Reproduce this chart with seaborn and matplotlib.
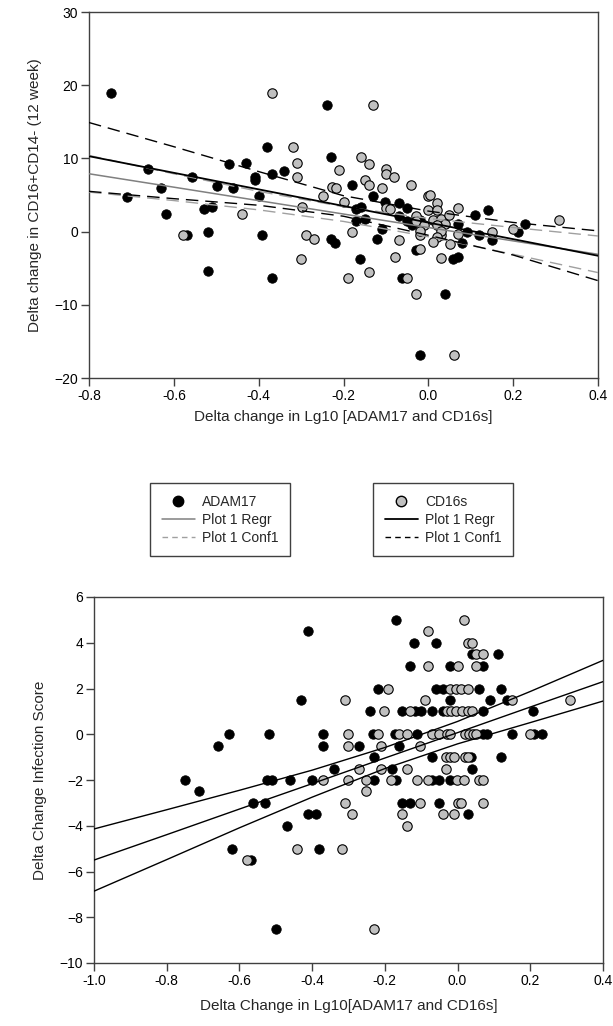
import numpy as np
import pandas as pd
import matplotlib
matplotlib.use("Agg")
import matplotlib.pyplot as plt
import seaborn as sns
from matplotlib.lines import Line2D

sns.set_theme(style="white")
plt.rcParams['font.family'] = ['Liberation Sans', 'DejaVu Sans']

# ---------------- Top panel data ----------------
top_adam17_x = [-0.749, -0.240, -0.380, -0.230, -0.660, -0.469, -0.430, -0.558, -0.409, -0.409,
                -0.369, -0.340, -0.630, -0.499, -0.460, -0.179, -0.710, -0.399, -0.130, -0.101,
                -0.069, -0.619, -0.530, -0.509, -0.170, -0.159, -0.050, 0.110, 0.140, 0.229,
                0.211, -0.170, -0.149, -0.069, -0.050, -0.039, -0.020, 0.069, 0.090, 0.119,
                0.151, 0.080, -0.110, -0.120, -0.030, -0.160, 0.059, 0.070, -0.570, -0.519,
                -0.391, -0.230, -0.220, -0.519, -0.369, -0.061, 0.040, -0.020]
top_adam17_y = [18.9, 17.3, 11.5, 10.2, 8.6, 9.2, 9.4, 7.4, 7.4, 7.0,
                7.9, 8.3, 5.9, 6.2, 5.9, 6.3, 4.7, 4.8, 4.8, 4.1,
                3.9, 2.4, 3.1, 3.3, 3.1, 3.3, 3.2, 2.3, 3.0, 1.1,
                -0.1, 1.5, 1.7, 2.1, 1.5, 0.9, 1.6, 1.0, 0.0, -0.5,
                -1.1, -1.6, 0.3, -1.0, -2.5, -3.8, -3.7, -3.5, -0.4, 0.0,
                -0.5, -1.0, -1.5, -5.4, -6.3, -6.3, -8.5, -16.8]

top_cd16s_x = [-0.369, -0.130, -0.320, -0.159, -0.310, -0.139, -0.310, -0.210, -0.100, -0.100,
               -0.080, -0.228, -0.218, -0.149, -0.139, -0.110, -0.041, -0.249, 0.000, 0.004,
               0.020, -0.200, -0.439, -0.299, -0.100, -0.090, 0.000, 0.020, 0.070, 0.309,
               0.200, -0.028, -0.029, -0.010, 0.010, 0.030, 0.040, 0.049, 0.020, 0.069,
               0.151, 0.051, 0.031, 0.031, 0.020, 0.010, -0.020, -0.020, -0.069, -0.179,
               -0.020, -0.079, -0.300, 0.030, -0.579, -0.289, -0.269, -0.139, -0.189, -0.050,
               -0.030, 0.060]
top_cd16s_y = [18.9, 17.3, 11.5, 10.2, 9.4, 9.2, 7.4, 8.4, 8.6, 7.9,
               7.4, 6.1, 6.0, 7.0, 6.3, 5.9, 6.4, 4.8, 4.8, 5.0,
               3.9, 4.1, 2.4, 3.3, 3.2, 3.1, 3.0, 3.0, 3.2, 1.6,
               0.3, 2.1, 1.5, 0.9, 1.6, 1.7, 1.1, 2.3, 0.9, -0.3,
               0.0, -1.7, -0.5, 0.1, -0.8, -1.4, -0.5, 0.1, -1.1, 0.0,
               -2.4, -3.5, -3.8, -3.6, -0.4, -0.5, -1.0, -5.5, -6.3, -6.3,
               -8.5, -16.8]

# regression / confidence lines
top_line_x = [-0.8, -0.6, -0.4, -0.2, 0.0, 0.2, 0.4]
top_adam17_regr = [7.9, 6.07, 4.23, 2.40, 0.56, -1.27, -3.1]
top_adam17_conf_hi = [10.4, 7.9, 5.5, 3.4, 1.8, 0.56, -0.6]
top_adam17_conf_lo = [5.4, 4.24, 2.97, 1.39, -0.7, -3.1, -5.6]
top_cd16s_regr = [10.3, 8.03, 5.77, 3.5, 1.23, -1.03, -3.3]
top_cd16s_conf_hi = [14.9, 11.6, 8.2, 4.9, 2.8, 1.25, 0.1]
top_cd16s_conf_lo = [5.5, 4.5, 3.6, 2.1, -0.5, -3.2, -6.7]

# ---------------- Bottom panel data ----------------
bot_adam17_x = [-0.170, -0.411, -0.120, -0.060, 0.039, 0.110, -0.131, -0.021, 0.071,
                -0.220, -0.060, -0.040, 0.060, 0.120,
                -0.431, -0.021, 0.089, 0.137,
                -0.241, -0.152, -0.118, -0.100, -0.071, -0.040, 0.071, 0.208,
                -0.629, -0.520, -0.369, -0.232, -0.172, -0.111, 0.071, 0.082, 0.149, 0.211, 0.231,
                -0.660, -0.369, -0.270, -0.161,
                -0.231, -0.071, 0.036, 0.119,
                -0.340, -0.181, 0.040,
                -0.750, -0.523, -0.511, -0.461, -0.400, -0.231, -0.170, -0.071, -0.051, -0.021,
                -0.710,
                -0.562, -0.530, -0.152, -0.130, -0.051,
                -0.411, -0.389, 0.029,
                -0.470,
                -0.620, -0.380,
                -0.569,
                -0.499]
bot_adam17_y = [5.0, 4.5, 4.0, 4.0, 3.5, 3.5, 3.0, 3.0, 3.0,
                2.0, 2.0, 2.0, 2.0, 2.0,
                1.5, 1.5, 1.5, 1.5,
                1.0, 1.0, 1.0, 1.0, 1.0, 1.0, 1.0, 1.0,
                0.0, 0.0, 0.0, 0.0, 0.0, 0.0, 0.0, 0.0, 0.0, 0.0, 0.0,
                -0.5, -0.5, -0.5, -0.5,
                -1.0, -1.0, -1.0, -1.0,
                -1.5, -1.5, -1.5,
                -2.0, -2.0, -2.0, -2.0, -2.0, -2.0, -2.0, -2.0, -2.0, -2.0,
                -2.5,
                -3.0, -3.0, -3.0, -3.0, -3.0,
                -3.5, -3.5, -3.5,
                -4.0,
                -5.0, -5.0,
                -5.5,
                -8.5]

bot_cd16s_x = [0.018, -0.081, 0.029, 0.041, 0.050, 0.071, -0.081, 0.000, 0.050,
               -0.190, -0.020, -0.005, 0.010, 0.030,
               -0.310, -0.090, 0.150, 0.309,
               -0.202, -0.131, -0.030, -0.019, -0.004, 0.011, 0.030, 0.039,
               -0.301, -0.220, -0.162, -0.140, -0.071, -0.050, -0.030, -0.021, 0.020, 0.031, 0.042,
               0.052, 0.199,
               -0.301, -0.211, -0.102,
               -0.032, -0.021, -0.010, 0.020, 0.030,
               -0.270, -0.211, -0.140, -0.031,
               -0.369, -0.301, -0.252, -0.182, -0.111, -0.082, -0.001, 0.019, 0.058, 0.071,
               -0.252,
               -0.310, -0.102, 0.000, 0.010, 0.071,
               -0.290, -0.152, -0.041, -0.010,
               -0.140,
               -0.441, -0.319,
               -0.580,
               -0.230]
bot_cd16s_y = [5.0, 4.5, 4.0, 4.0, 3.5, 3.5, 3.0, 3.0, 3.0,
               2.0, 2.0, 2.0, 2.0, 2.0,
               1.5, 1.5, 1.5, 1.5,
               1.0, 1.0, 1.0, 1.0, 1.0, 1.0, 1.0, 1.0,
               0.0, 0.0, 0.0, 0.0, 0.0, 0.0, 0.0, 0.0, 0.0, 0.0, 0.0,
               0.0, 0.0,
               -0.5, -0.5, -0.5,
               -1.0, -1.0, -1.0, -1.0, -1.0,
               -1.5, -1.5, -1.5, -1.5,
               -2.0, -2.0, -2.0, -2.0, -2.0, -2.0, -2.0, -2.0, -2.0, -2.0,
               -2.5,
               -3.0, -3.0, -3.0, -3.0, -3.0,
               -3.5, -3.5, -3.5, -3.5,
               -4.0,
               -5.0, -5.0,
               -5.5,
               -8.5]

# regression / confidence lines
bot_line_x = [-1.0, -0.8, -0.6, -0.4, -0.2, 0.0, 0.2, 0.4]
bot_regr = [-5.5, -4.39, -3.27, -2.16, -1.04, 0.07, 1.19, 2.3]
bot_conf_hi = [-4.14, -3.30, -2.45, -1.57, -0.58, 0.56, 1.87, 3.23]
bot_conf_lo = [-6.86, -5.48, -4.09, -2.75, -1.50, -0.42, 0.51, 1.45]

top_xticks = [-0.8, -0.6, -0.4, -0.2, 0.0, 0.2, 0.4]
top_yticks = [-20, -10, 0, 10, 20, 30]
bot_xticks = [-1.0, -0.8, -0.6, -0.4, -0.2, 0.0, 0.2, 0.4]
bot_yticks = [-10, -8, -6, -4, -2, 0, 2, 4, 6]

GRAY_FILL = "#c0c0c0"
DASH = (0, (9, 5))

fig = plt.figure(figsize=(6.13, 10.26), dpi=100)
W, H = 613.0, 1026.0
ax1 = fig.add_axes([89 / W, 1 - 378 / H, (598 - 89) / W, (378 - 12) / H])
ax2 = fig.add_axes([94 / W, 1 - 963 / H, (603 - 94) / W, (963 - 597) / H])

# ---- top panel ----
df_ta = pd.DataFrame({"x": top_adam17_x, "y": top_adam17_y})
df_tc = pd.DataFrame({"x": top_cd16s_x, "y": top_cd16s_y})
sns.scatterplot(data=df_ta, x="x", y="y", ax=ax1, s=46, color="black",
                edgecolor="black", linewidth=0.6, zorder=2)
sns.scatterplot(data=df_tc, x="x", y="y", ax=ax1, s=46, color=GRAY_FILL,
                edgecolor="black", linewidth=0.8, zorder=3)

lines_top = pd.DataFrame({"x": top_line_x,
                          "a_fit": top_adam17_regr, "a_hi": top_adam17_conf_hi, "a_lo": top_adam17_conf_lo,
                          "c_fit": top_cd16s_regr, "c_hi": top_cd16s_conf_hi, "c_lo": top_cd16s_conf_lo})
ax1.plot(lines_top["x"], lines_top["a_fit"], color="#808080", lw=1.1, zorder=4)
ax1.plot(lines_top["x"], lines_top["a_hi"], color="#a0a0a0", lw=1.0, ls=DASH, zorder=4)
ax1.plot(lines_top["x"], lines_top["a_lo"], color="#a0a0a0", lw=1.0, ls=DASH, zorder=4)
ax1.plot(lines_top["x"], lines_top["c_fit"], color="black", lw=1.3, zorder=5)
ax1.plot(lines_top["x"], lines_top["c_hi"], color="black", lw=1.0, ls=DASH, zorder=5)
ax1.plot(lines_top["x"], lines_top["c_lo"], color="black", lw=1.0, ls=DASH, zorder=5)

ax1.set_xlim(-0.8, 0.4)
ax1.set_ylim(-20, 30)
ax1.set_xticks(top_xticks)
ax1.set_xticklabels([f"{v:.1f}" for v in top_xticks])
ax1.set_yticks(top_yticks)
ax1.set_xlabel("Delta change in Lg10 [ADAM17 and CD16s]", fontsize=11, labelpad=5)
ax1.set_ylabel("Delta change in CD16+CD14- (12 week)", fontsize=11, labelpad=9)

# ---- bottom panel ----
df_ba = pd.DataFrame({"x": bot_adam17_x, "y": bot_adam17_y})
df_bc = pd.DataFrame({"x": bot_cd16s_x, "y": bot_cd16s_y})
sns.scatterplot(data=df_ba, x="x", y="y", ax=ax2, s=46, color="black",
                edgecolor="black", linewidth=0.6, zorder=2)
sns.scatterplot(data=df_bc, x="x", y="y", ax=ax2, s=46, color=GRAY_FILL,
                edgecolor="black", linewidth=0.8, zorder=3)

lines_bot = pd.DataFrame({"x": bot_line_x, "fit": bot_regr, "hi": bot_conf_hi, "lo": bot_conf_lo})
for col in ["fit", "hi", "lo"]:
    ax2.plot(lines_bot["x"], lines_bot[col], color="black", lw=1.0, zorder=5)

ax2.set_xlim(-1.0, 0.4)
ax2.set_ylim(-10, 6)
ax2.set_xticks(bot_xticks)
ax2.set_xticklabels([f"{v:.1f}" for v in bot_xticks])
ax2.set_yticks(bot_yticks)
ax2.set_xlabel("Delta Change in Lg10[ADAM17 and CD16s]", fontsize=11, labelpad=8)
ax2.set_ylabel("Delta Change Infection Score", fontsize=11, labelpad=9)

for ax in (ax1, ax2):
    for sp in ax.spines.values():
        sp.set_visible(True)
        sp.set_color("#404040")
        sp.set_linewidth(1.0)
    ax.tick_params(axis="both", which="major", direction="out", length=6, width=1,
                   color="#404040", labelsize=10, labelcolor="black", pad=2,
                   bottom=True, left=True, top=False, right=False)
    ax.grid(False)

# ---- legends ----
leg_a_handles = [
    Line2D([], [], ls="none", marker="o", markersize=7.5, markerfacecolor="black", markeredgecolor="black"),
    Line2D([], [], color="#808080", lw=1.1),
    Line2D([], [], color="#a0a0a0", lw=1.0, ls=(0, (4, 3))),
]
leg_c_handles = [
    Line2D([], [], ls="none", marker="o", markersize=7.5, markerfacecolor=GRAY_FILL, markeredgecolor="black"),
    Line2D([], [], color="black", lw=1.3),
    Line2D([], [], color="black", lw=1.0, ls=(0, (4, 3))),
]
leg_kw = dict(loc="upper left", fontsize=10, frameon=True, fancybox=False, shadow=False,
              handlelength=2.4, handletextpad=0.5, labelspacing=0.28, borderpad=0.85,
              borderaxespad=0.0, edgecolor="#404040", framealpha=1.0)
legA = fig.legend(leg_a_handles, ["ADAM17", "Plot 1 Regr", "Plot 1 Conf1"],
                  bbox_to_anchor=(150 / W, 1 - 483 / H), **leg_kw)
legC = fig.legend(leg_c_handles, ["CD16s", "Plot 1 Regr", "Plot 1 Conf1"],
                  bbox_to_anchor=(373 / W, 1 - 483 / H), **leg_kw)
for lg in (legA, legC):
    lg.get_frame().set_linewidth(1.0)
    lg.get_frame().set_boxstyle("square", pad=0)

fig.savefig("out.png", dpi=100)
